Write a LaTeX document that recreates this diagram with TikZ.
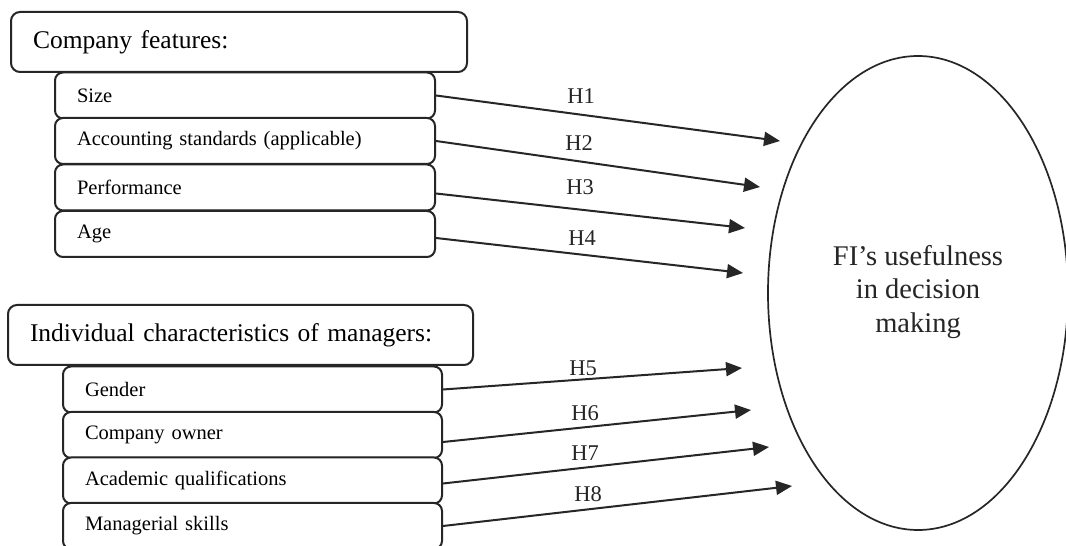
\documentclass[tikz,border=0pt]{standalone}
\usepackage{fontspec}
\setmainfont{Liberation Serif}
\usetikzlibrary{arrows.meta,calc}
\begin{document}
\begin{tikzpicture}[x=1pt,y=1pt,
  hdrbox/.style={draw=black!85, line width=2pt, rounded corners=9pt, fill=white,
    minimum height=60pt, inner xsep=22pt, inner ysep=0pt, align=left,
    font=\fontsize{25.5}{30}\selectfont},
  itembox/.style={draw=black!85, line width=2pt, rounded corners=8pt, fill=white,
    minimum height=46pt, inner xsep=22pt, inner ysep=0pt, align=left, text width=336pt,
    font=\fontsize{20.5}{24}\selectfont},
  hyp/.style={draw=black!85, line width=2pt, -{Triangle[length=16pt,width=14pt]}},
  hlab/.style={font=\fontsize{22.5}{26}\selectfont, text=black!85, inner sep=0pt}
]
\useasboundingbox (0,0) rectangle (1066,546);
\fill[white] (0,0) rectangle (1066,546);

% ellipse
\draw[black!85, line width=1.7pt] (918,253) ellipse [x radius=150, y radius=237];
\node[align=center, font=\fontsize{28.5}{33.5}\selectfont, text=black!85] (goal) at (918,254)
  {FI’s usefulness\\in decision\\making};

% group 1
\node[hdrbox, text width=412pt] (h1) at (239,504) {Company features:};
\node[itembox] (size) at (245,450.5) {Size};
\node[itembox] (acc) at (245,405) {Accounting standards (applicable)};
\node[itembox] (perf) at (245,358.5) {Performance};
\node[itembox] (age) at (245,312) {Age};

% group 2
\node[hdrbox, text width=421pt] (h2) at (240.5,211) {Individual characteristics of managers:};
\node[itembox, text width=335pt] (gen) at (252.5,156.5) {Gender};
\node[itembox, text width=335pt] (own) at (252.5,111) {Company owner};
\node[itembox, text width=335pt] (acad) at (252.5,65.5) {Academic qualifications};
\node[itembox, text width=335pt] (man) at (252.5,20) {Managerial skills};

% arrow ends
\coordinate (e1) at (780,405);
\coordinate (e2) at (760,359);
\coordinate (e3) at (745,318);
\coordinate (e4) at (743,273);
\coordinate (e5) at (742,178);
\coordinate (e6) at (751,136);
\coordinate (e7) at (769,99);
\coordinate (e8) at (792,60);

\draw[hyp] (size.east) -- (e1);
\draw[hyp] (acc.east) -- (e2);
\draw[hyp] ([yshift=-6pt]perf.east) -- (e3);
\draw[hyp] ([yshift=-4pt]age.east) -- (e4);
\draw[hyp] (gen.east) -- (e5);
\draw[hyp] ([yshift=-7pt]own.east) -- (e6);
\draw[hyp] ([yshift=-3pt]acad.east) -- (e7);
\draw[hyp] (man.east) -- (e8);

\node[hlab] (l1) at (581,450) {H1};
\node[hlab] (l2) at (579,403) {H2};
\node[hlab] (l3) at (580,359) {H3};
\node[hlab] (l4) at (582,308) {H4};
\node[hlab] (l5) at (583,178) {H5};
\node[hlab] (l6) at (585,133) {H6};
\node[hlab] (l7) at (585,93) {H7};
\node[hlab] (l8) at (588,52) {H8};
\end{tikzpicture}
\end{document}
